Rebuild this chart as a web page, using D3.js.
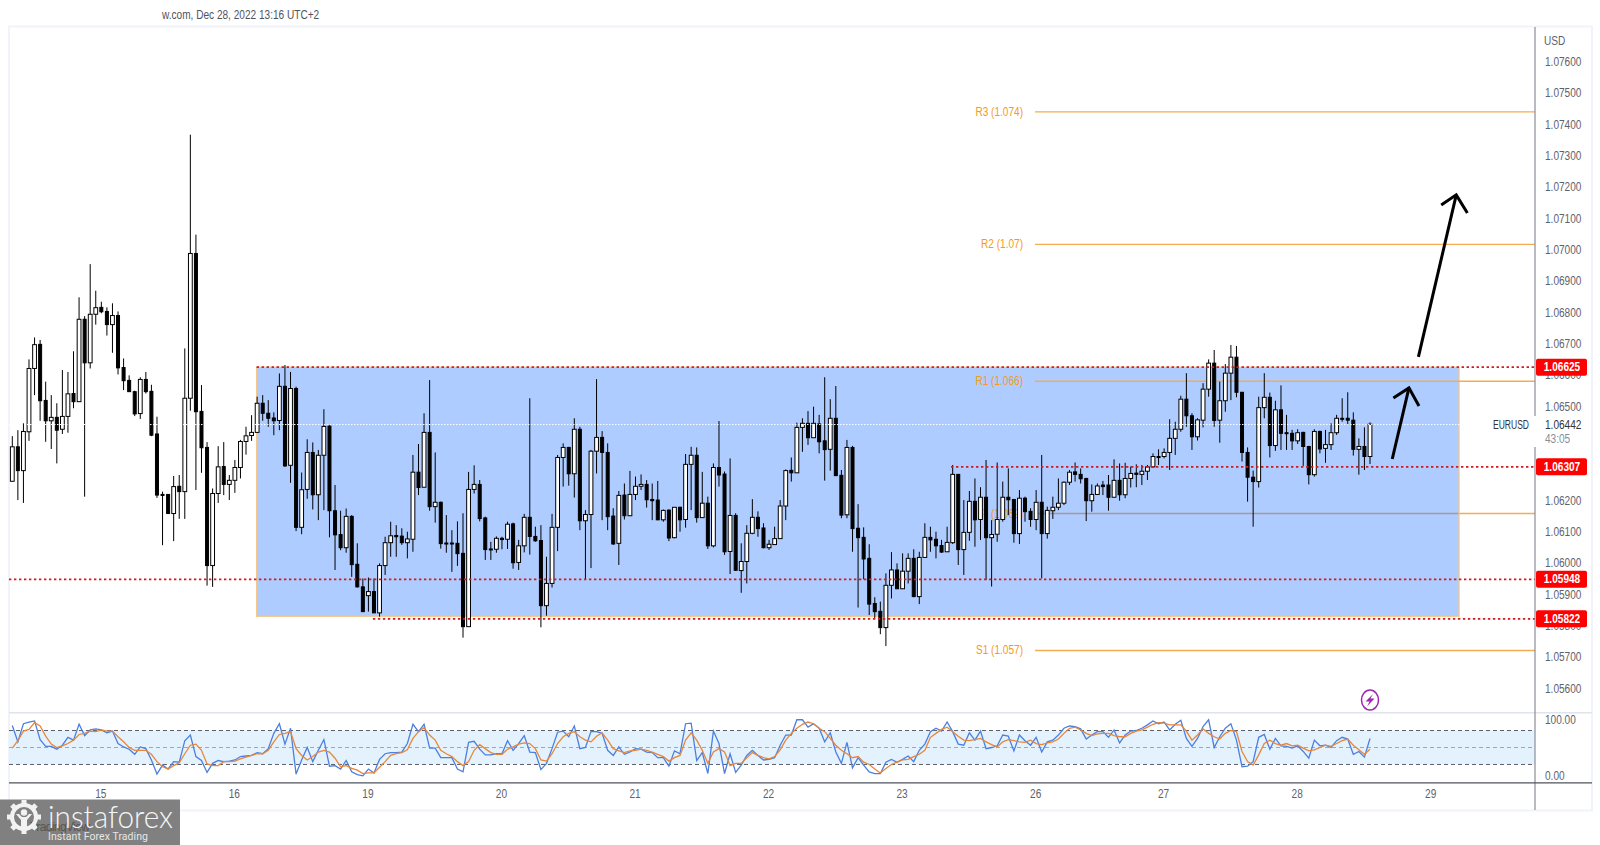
<!DOCTYPE html>
<html>
<head>
<meta charset="utf-8">
<script src="https://cdn.jsdelivr.net/npm/d3@7"></script>
<style>
  html, body { margin: 0; padding: 0; background: #fff; overflow: hidden; }
  text { font-family: "Liberation Sans", sans-serif; }
</style>
</head>
<body>
<div id="chart"></div>
<script>
// EURUSD H1, prices in 1/100000 (106442 = 1.06442)
const opens = [
106261,106371,106295,106419,106621,106698,106519,106454,106465,106427,106468,106541,106515,106778,106639,106794,106816,106803,106761,106790,
106624,106583,106547,106477,106586,106548,106412,106219,106219,106158,106245,106228,106526,106988,106484,106369,105992,106222,106308,106251,
106264,106305,106388,106407,106417,106510,106478,106463,106455,106564,106312,106557,106114,106235,106353,106218,106344,106437,106167,106091,
106049,106149,105996,105924,105896,105909,105841,105992,106065,106088,
106086,106065,106076,106290,106242,106417,106180,106194,106064,106064,106063,106031,105797,106235,106251,106144,106045,106044,106079,106076,
106125,106002,106055,106146,106085,106072,105864,105935,106114,106337,106369,106285,106427,106135,106155,106357,106401,106353,106150,106063,
106217,106151,106219,106245,106251,106203,106201,106138,106169,106081,106178,106139,106315,106344,106145,106191,106055,106305,106284,106037,
106152,105976,106005,106095,106146,106112,106049,106059,106078,106182,106296,106288,
106433,106446,106400,106444,106390,106363,106462,106280,106154,106369,106111,106082,106015,105871,105846,105794,105929,105978,105918,105974,
106015,105893,106018,106082,106076,106056,106036,106065,106283,106043,106098,106197,106139,106210,106081,106092,106139,106210,106203,106094,
106207,106165,106139,106194,106094,106167,106178,106191,106258,106291,106283,106270,106199,106219,106249,106249,106210,106264,106218,106270,
106287,106283,106293,106307,106340,106340,106353,106398,106427,106523,106470,106403,
106456,106555,106638,106456,106518,106606,106657,106545,106353,106274,106260,106496,106529,106375,106489,106416,106414,106390,106417,106372,
106282,106420,106366,106378,106416,106462,106462,106456,106363,106372,106340];
const highs = [
106405,106424,106446,106650,106720,106712,106579,106536,106510,106616,106610,106676,106848,106788,106954,106869,106834,106816,106829,106803,
106653,106599,106550,106593,106610,106569,106467,106228,106219,106278,106281,106685,107367,107048,106568,106386,106238,106373,106386,106281,
106329,106393,106435,106472,106531,106536,106520,106481,106605,106632,106610,106563,106289,106395,106385,106361,106491,106440,106249,106167,
106174,106153,106063,105951,105954,105951,105999,106084,106132,106121,
106111,106100,106345,106380,106478,106584,106353,106196,106153,106105,106133,106159,106291,106312,106265,106148,106068,106085,106084,106132,
106129,106074,106157,106526,106116,106121,106020,106157,106345,106382,106371,106462,106435,106169,106361,106587,106421,106382,106175,106230,
106254,106294,106276,106283,106265,106254,106262,106171,106171,106178,106180,106348,106371,106369,106291,106212,106318,106453,106292,106334,
106159,106063,106121,106204,106165,106127,106074,106116,106201,106299,106337,106448,
106462,106485,106499,106473,106593,106523,106565,106297,106393,106374,106188,106114,106060,105891,105877,105967,106035,105999,106031,106031,
106044,106036,106127,106116,106100,106074,106116,106313,106284,106201,106230,106270,106242,106329,106137,106321,106260,106302,106203,106233,
106212,106175,106233,106345,106180,106212,106270,106260,106297,106321,106302,106272,106251,106254,106262,106281,106331,106318,106320,106308,
106315,106313,106313,106350,106363,106366,106459,106451,106534,106606,106478,106462,
106574,106650,106680,106579,106635,106696,106693,106545,106369,106295,106531,106606,106544,106518,106567,106473,106425,106427,106419,106374,
106427,106423,106425,106446,106473,106526,106545,106481,106398,106433,106449];
const lows = [
106261,106201,106192,106390,106536,106454,106387,106364,106318,106412,106416,106494,106515,106212,106621,106761,106797,106726,106671,106602,
106552,106547,106469,106460,106541,106405,106208,106057,106158,106070,106141,106141,106486,106233,106288,105928,105924,106192,106217,106201,
106224,106270,106346,106390,106416,106454,106435,106408,106424,106307,106256,106102,106092,106205,106171,106137,106169,106082,105978,106041,
106033,105956,105922,105845,105845,105841,105829,105962,106020,106020,
106058,106015,106036,106217,106242,106167,106129,106046,106033,105972,105991,105762,105797,106222,106133,106010,106010,106033,106044,106045,
105982,105978,106034,106027,106068,105795,105832,105922,106038,106244,106247,106209,106105,105946,105984,106286,106137,106105,106058,105994,
106139,106151,106201,106233,106177,106137,106137,106132,106070,106079,106100,106113,106169,106129,106145,106045,106050,106244,106026,105965,
105975,105905,105935,106092,106084,106047,106042,106058,106078,106137,106260,106288,
106355,106377,106400,106350,106263,106295,106279,106143,106143,106036,105858,105948,105834,105822,105773,105735,105887,105918,105918,105935,
105891,105869,106018,106036,106015,106033,106036,106061,105994,105962,106071,106052,106074,105946,105925,106068,106132,106153,106065,106061,
106132,106116,106105,105951,106078,106141,106169,106185,106249,106260,106254,106134,106164,106217,106217,106167,106210,106199,106207,106241,
106242,106249,106265,106304,106313,106334,106297,106345,106419,106435,106361,106391,
106433,106531,106435,106384,106483,106520,106529,106324,106196,106116,106241,106462,106337,106358,106361,106361,106361,106380,106310,106251,
106276,106350,106320,106361,106409,106451,106441,106343,106282,106297,106316];
const closes = [
106371,106295,106420,106621,106697,106518,106454,106465,106424,106468,106540,106515,106778,106639,106794,106815,106802,106761,106790,106623,
106582,106547,106476,106586,106547,106408,106217,106217,106158,106244,106228,106526,106988,106483,106368,105992,106222,106307,106251,106264,
106305,106388,106406,106417,106510,106478,106462,106454,106564,106310,106557,106114,106234,106353,106218,106344,106436,106167,106090,106049,
106149,105995,105924,105845,105909,105841,105992,106065,106087,106084,
106065,106077,106290,106241,106417,106180,106194,106062,106062,106062,106030,105797,106235,106251,106142,106043,106043,106079,106075,106124,
106001,106055,106146,106085,106071,105864,105935,106114,106337,106369,106285,106427,106135,106155,106357,106401,106353,106148,106061,106216,
106151,106219,106245,106251,106202,106199,106138,106168,106080,106178,106138,106315,106344,106145,106191,106055,106305,106281,106036,106152,
105977,106005,106095,106146,106110,106049,106060,106078,106182,106295,106288,106433,
106446,106400,106446,106387,106362,106462,106279,106153,106369,106110,106081,106013,105869,105845,105794,105929,105978,105918,105974,106015,
105893,106018,106082,106074,106055,106035,106066,106283,106043,106098,106197,106138,106210,106081,106091,106139,106210,106202,106094,106207,
106164,106139,106194,106094,106168,106178,106191,106258,106290,106283,106269,106199,106219,106246,106244,106210,106264,106218,106270,106286,
106283,106293,106307,106340,106338,106353,106398,106427,106523,106470,106403,106457,
106555,106638,106455,106518,106606,106657,106545,106353,106274,106260,106496,106529,106375,106489,106414,106413,106390,106416,106372,106282,
106420,106364,106378,106416,106462,106460,106456,106363,106372,106340,106443];

// stochastic pane
const stochK = [
89,60,92,95,97,64,52,52,47,54,68,63,91,71,81,83,81,76,79,57,51,47,38,51,48,28,3,19,12,25,24,62,72,34,27,6,22,27,25,26,
28,34,35,36,41,39,48,75,92,56,84,3,28,50,25,45,64,17,18,12,27,7,2,0,12,5,29,39,41,41,42,57,91,78,91,49,49,32,32,32,
12,7,59,61,47,37,37,39,39,62,45,57,71,
42,41,11,22,48,77,79,69,88,48,50,78,78,75,45,36,51,38,42,48,47,42,41,32,32,17,44,39,92,93,27,41,4,79,57,4,39,
6,19,36,45,36,28,29,32,54,72,72,99,99,86,92,84,60,76,42,22,59,14,32,19,7,4,4,24,29,24,29,35,25,45,56,78,84,79,95,78,
56,54,76,63,79,48,50,53,72,70,44,72,62,54,68,42,60,63,
72,84,88,87,83,65,72,78,78,68,81,58,72,79,80,84,90,97,92,95,81,91,98,66,52,66,87,99,50,69,
84,92,63,16,17,25,68,73,47,66,53,52,49,53,43,31,63,53,54,50,62,68,65,38,43,33,66];
const stochD = [
49,62,79,82,94,88,70,56,50,53,57,63,73,75,79,78,81,79,79,69,60,50,45,45,45,38,25,16,12,18,23,39,54,56,45,21,18,18,25,25,
26,30,33,36,39,39,45,60,73,75,78,48,36,28,34,42,45,42,31,16,18,13,10,4,5,5,15,25,36,39,41,46,66,78,85,72,63,45,39,34,
25,18,25,45,55,48,41,38,38,47,51,56,58,
57,48,28,26,39,57,69,75,78,69,63,60,70,76,63,48,44,41,44,45,47,45,42,38,34,26,32,36,63,76,63,45,22,42,48,42,18,
22,22,32,41,36,32,30,34,46,63,75,84,91,95,92,84,78,66,54,45,39,32,34,24,20,12,5,13,20,24,28,29,34,38,45,68,75,82,86,78,
70,63,62,64,66,60,55,51,60,64,62,60,59,63,57,55,58,60,
65,75,84,86,81,75,71,74,75,75,71,69,69,75,79,81,86,91,94,93,90,90,90,79,63,72,83,75,69,65,
75,80,78,43,25,19,37,57,63,57,54,57,53,54,49,44,46,50,54,52,57,62,65,54,46,38,47];

const priceTicks = [107600,107500,107400,107300,107200,107100,107000,106900,106800,106700,106600,106500,106400,106300,106200,106100,106000,105900,105800,105700,105600];
const dayTicks = [16,40,64,88,112,136,160,184,207,231,255];
const dayLabels = ['15','16','19','20','21','22','23','26','27','28','29'];
const stochTicks = [100,0];
const stochBands = [80,50,20];

const pivotNames = ['R3 (1.074)','R2 (1.07)','R1 (1.066)','P (1.062)','S1 (1.057)'];
const pivotPrices = [107440,107017,106580,106158,105721];
const pivotStart = 183.8;

const boxIdx = [43.9,260];
const boxPrices = [106625,105830];

const levelPrices = [106625,106307,105948,105822];
const levelStart = [43.9,168.7,-0.6,64.8];
const lastPrice = 106442;

// hand drawn arrows: [candle index, price]
const longArrow = [[252.7,106658],[259.5,107175]];
const longHead = [[256.8,107143],[259.5,107175],[261.5,107117]];
const shortArrow = [[248,106332],[251,106559]];
const shortHead = [[248.2,106527],[251,106559],[252.8,106501]];

const W = 1600, H = 845;
const plotRight = 1535, frameRight = 1592, frameLeft = 9;
const grey = '#5f626c';
const squeeze = 0.84; // the chart font is narrower than Liberation Sans

const svg = d3.select('#chart').append('svg').attr('width', W).attr('height', H).style('display', 'block');

const x = d3.scaleLinear().domain([0,244]).range([12.3,1370]);
const y = d3.scaleLinear().domain([107600,105600]).range([61.7,688.4]);
const yS = d3.scaleLinear().domain([0,100]).range([775.8,719.2]);

// frame
svg.append('rect').attr('x', frameLeft).attr('y', 26.5).attr('width', frameRight - frameLeft).attr('height', 784)
  .attr('fill', '#fff').attr('stroke', '#f0f3fa').attr('stroke-width', 2);

svg.append('text').attr('x', 162).attr('y', 19).attr('font-size', 12).attr('fill', '#50535e')
  .text('w.com, Dec 28, 2022 13:16 UTC+2');

// pivot line under the box
const pivots = pivotNames.map((name, i) => ({ name, price: pivotPrices[i] }));
const drawPivotLine = (sel) => {
  sel.append('line').attr('x1', x(pivotStart)).attr('x2', plotRight)
    .attr('y1', (d) => y(d.price)).attr('y2', (d) => y(d.price))
    .attr('stroke', '#f5ab4e').attr('stroke-width', 1.4);
};
svg.selectAll('.pivot-under').data(pivots.filter((d) => d.name[0] === 'P')).enter().append('g').call(drawPivotLine);

// range box
svg.append('rect')
  .attr('x', x(boxIdx[0])).attr('y', y(boxPrices[0]))
  .attr('width', x(boxIdx[1]) - x(boxIdx[0])).attr('height', y(boxPrices[1]) - y(boxPrices[0]))
  .attr('fill', '#2979ff').attr('fill-opacity', 0.38);
svg.append('rect')
  .attr('x', x(boxIdx[0])).attr('y', y(boxPrices[0]))
  .attr('width', x(boxIdx[1]) - x(boxIdx[0])).attr('height', y(boxPrices[1]) - y(boxPrices[0]))
  .attr('fill', 'none').attr('stroke', '#f5c78a').attr('stroke-width', 1.2);

svg.selectAll('.pivot-over').data(pivots.filter((d) => d.name[0] !== 'P')).enter().append('g').call(drawPivotLine);
svg.selectAll('.pivot-label').data(pivots).enter().append('text')
  .attr('x', x(pivotStart) - 12).attr('y', (d) => y(d.price) + 4)
  .attr('text-anchor', 'end').attr('font-size', 12).attr('fill', '#f59a20').text((d) => d.name);

// candles
const candles = opens.map((o, i) => ({ i, o, h: highs[i], l: lows[i], c: closes[i] }));
const candleG = svg.append('g');
candleG.selectAll('line').data(candles).enter().append('line')
  .attr('x1', (d) => x(d.i)).attr('x2', (d) => x(d.i))
  .attr('y1', (d) => y(d.h)).attr('y2', (d) => y(d.l))
  .attr('stroke', '#000').attr('stroke-width', 1);
candleG.selectAll('rect').data(candles).enter().append('rect')
  .attr('x', (d) => x(d.i) - (d.c >= d.o ? 1.9 : 1.5))
  .attr('y', (d) => y(Math.max(d.o, d.c)))
  .attr('width', (d) => (d.c >= d.o ? 3.8 : 3))
  .attr('height', (d) => Math.max(1, Math.abs(y(d.o) - y(d.c))))
  .attr('fill', (d) => (d.c >= d.o ? '#fff' : '#000'))
  .attr('stroke', '#000').attr('stroke-width', 1);

// last price dotted line
svg.append('line').attr('x1', frameLeft).attr('x2', plotRight).attr('y1', y(lastPrice)).attr('y2', y(lastPrice))
  .attr('stroke', '#fff').attr('stroke-width', 1).attr('stroke-dasharray', '1.5 1.5');

// support / resistance levels
svg.selectAll('.level').data(levelPrices).enter().append('line')
  .attr('x1', (d, i) => x(levelStart[i])).attr('x2', plotRight)
  .attr('y1', (d) => y(d)).attr('y2', (d) => y(d))
  .attr('stroke', '#d11a1f').attr('stroke-width', 1.8).attr('stroke-dasharray', '2.4 2.6');

// arrows
const arrowLine = d3.line().x((d) => x(d[0])).y((d) => y(d[1]));
[longArrow, longHead, shortArrow, shortHead].forEach((pts) => {
  svg.append('path').attr('d', arrowLine(pts)).attr('fill', 'none')
    .attr('stroke', '#000').attr('stroke-width', 3);
});

// stochastic pane
svg.append('line').attr('x1', frameLeft).attr('x2', frameRight).attr('y1', 712.7).attr('y2', 712.7)
  .attr('stroke', '#e0e3eb').attr('stroke-width', 1.5);
svg.append('rect').attr('x', frameLeft).attr('y', yS(80)).attr('width', plotRight - frameLeft)
  .attr('height', yS(20) - yS(80)).attr('fill', '#e3f2fd');
svg.selectAll('.band').data(stochBands).enter().append('line')
  .attr('x1', frameLeft).attr('x2', plotRight).attr('y1', (d) => yS(d)).attr('y2', (d) => yS(d))
  .attr('stroke', (d) => (d === 50 ? '#a3a6af' : '#5d606b')).attr('stroke-width', 1).attr('stroke-dasharray', '4 3');

const stochLine = d3.line().x((d, i) => x(i)).y((d) => yS(d));
svg.append('path').attr('d', stochLine(stochK)).attr('fill', 'none').attr('stroke', '#4c7fe0').attr('stroke-width', 1.3);
svg.append('path').attr('d', stochLine(stochD)).attr('fill', 'none').attr('stroke', '#e8873a').attr('stroke-width', 1.3);

// price axis
const axisY = svg.append('g').attr('transform', `translate(${plotRight},0)`)
  .call(d3.axisRight(y).tickValues(priceTicks).tickSize(0).tickPadding(10).tickFormat((d) => (d / 100000).toFixed(5)));
axisY.select('.domain').remove();
const axisS = svg.append('g').attr('transform', `translate(${plotRight},0)`)
  .call(d3.axisRight(yS).tickValues(stochTicks).tickSize(0).tickPadding(10).tickFormat((d) => d.toFixed(2)));
axisS.select('.domain').remove();
svg.selectAll('.tick text').attr('font-size', 12).attr('fill', grey).style('font-family', null);

svg.append('line').attr('x1', plotRight).attr('x2', plotRight).attr('y1', 27).attr('y2', 810)
  .attr('stroke', '#8a8d96').attr('stroke-width', 1.2);
svg.append('text').attr('x', 1544).attr('y', 45).attr('font-size', 12).attr('fill', grey).text('USD');

// time axis
svg.append('line').attr('x1', frameLeft).attr('x2', frameRight).attr('y1', 782.8).attr('y2', 782.8)
  .attr('stroke', '#50535e').attr('stroke-width', 1.2);
const axisX = svg.append('g').attr('transform', 'translate(-1,782.8)')
  .call(d3.axisBottom(x).tickValues(dayTicks).tickSize(0).tickPadding(7).tickFormat((d, i) => dayLabels[i]));
axisX.select('.domain').remove();
axisX.selectAll('text').attr('font-size', 12).attr('fill', grey).style('font-family', null);

// price labels in red
const labelG = svg.selectAll('.lab').data(levelPrices).enter().append('g');
labelG.append('rect').attr('x', plotRight + 1).attr('y', (d) => y(d) - 8.5).attr('width', 51).attr('height', 17).attr('rx', 2).attr('fill', '#ff0000');
labelG.append('text').attr('x', plotRight + 27).attr('y', (d) => y(d) + 4).attr('text-anchor', 'middle')
  .attr('font-size', 12).attr('font-weight', 'bold').attr('fill', '#fff').text((d) => (d / 100000).toFixed(5));

// current price label
svg.append('rect').attr('x', plotRight - 1).attr('y', 416).attr('width', 55).attr('height', 31).attr('fill', '#fff');
svg.append('text').attr('x', 1545).attr('y', y(lastPrice) + 4).attr('font-size', 12).attr('fill', '#333').text((lastPrice / 100000).toFixed(5));
svg.append('text').attr('x', 1545).attr('y', 443).attr('font-size', 12).attr('fill', '#8a8d96').text('43:05');

// narrow all the text so far down to the width it has in the picture
svg.selectAll('text').each(function () {
  const len = this.getComputedTextLength();
  d3.select(this).attr('textLength', len * squeeze).attr('lengthAdjust', 'spacingAndGlyphs');
});

svg.append('text').attr('x', 1493).attr('y', y(lastPrice) + 4).attr('font-size', 12).attr('fill', '#333')
  .attr('textLength', 36).attr('lengthAdjust', 'spacingAndGlyphs').text('EURUSD');

// lightning marker
const bolt = svg.append('g').attr('transform', `translate(${x(244)},700)`);
bolt.append('ellipse').attr('rx', 8.5).attr('ry', 10).attr('fill', '#fff').attr('stroke', '#9c27b0').attr('stroke-width', 1.5);
bolt.append('path').attr('d', 'M3,-6 L-4.5,1.5 L-0.5,1.5 L-3,6.5 L4.5,-1.5 L0.5,-1.5 Z').attr('fill', '#9c27b0');

// watermark
const logo = svg.append('g');
logo.append('rect').attr('x', 0).attr('y', 799.5).attr('width', 180).attr('height', 45.5).attr('fill', '#808080');
logo.append('text').attr('x', 30).attr('y', 831).attr('font-size', 12).attr('fill', '#555')
  .attr('textLength', 60).text('TradingView');
const gear = logo.append('g').attr('transform', 'translate(24,817)');
d3.range(8).forEach((k) => {
  gear.append('rect').attr('x', -2.5).attr('y', -17).attr('width', 5).attr('height', 6).attr('fill', '#f2f2f2')
    .attr('transform', `rotate(${k * 45})`);
});
gear.append('circle').attr('r', 12).attr('fill', 'none').attr('stroke', '#f2f2f2').attr('stroke-width', 4);
gear.append('circle').attr('cy', -4.5).attr('r', 3.2).attr('fill', '#f2f2f2');
gear.append('path').attr('d', 'M-8,-3 L-5,-3 L-2,0 L2,0 L5,-3 L8,-3 L3,3 L3,13 L-3,13 L-3,3 Z').attr('fill', '#f2f2f2');
logo.append('text').attr('x', 48).attr('y', 828).attr('font-size', 32).attr('fill', '#f5f5f5')
  .attr('textLength', 125).attr('lengthAdjust', 'spacingAndGlyphs')
  .style('font-family', 'Lato, "Open Sans", sans-serif').style('font-weight', 300).text('instaforex');
logo.append('text').attr('x', 48).attr('y', 840).attr('font-size', 10.5).attr('fill', '#e6e6e6')
  .attr('textLength', 100).style('font-family', 'Roboto, sans-serif').text('Instant Forex Trading');
</script>
</body>
</html>
